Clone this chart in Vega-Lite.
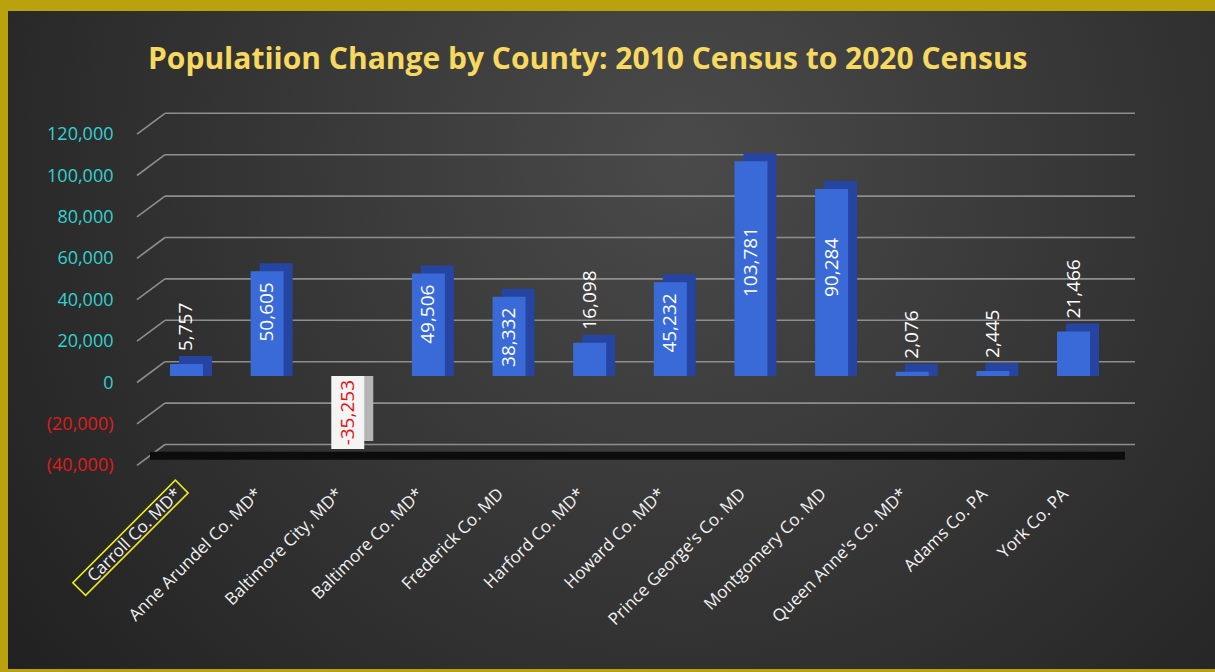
{
  "$schema": "https://vega.github.io/schema/vega-lite/v6.json",
  "width": 1207,
  "height": 658,
  "autosize": {"type": "none"},
  "padding": {"left": 8, "top": 11, "right": 0, "bottom": 3},
  "background": "#b9a20d",
  "config": {
    "view": {
      "stroke": null,
      "fill": {
        "gradient": "radial",
        "x1": 0.56, "y1": 0.35, "x2": 0.56, "y2": 0.35, "r1": 0, "r2": 0.8,
        "stops": [{"offset": 0, "color": "#4a4a4a"}, {"offset": 1, "color": "#1b1b1b"}]
      }
    },
    "locale": {"number": {"decimal": ".", "thousands": ",", "grouping": [3], "currency": ["$", ""], "minus": "-"}},
    "font": "Open Sans"
  },
  "title": {
    "text": "Populatiion Change by County: 2010 Census to 2020 Census",
    "font": "Open Sans",
    "fontSize": 30,
    "fontWeight": "bold",
    "color": "#f7d95f",
    "anchor": "start",
    "frame": "group",
    "dx": 140,
    "offset": -88,
    "baseline": "alphabetic"
  },
  "datasets": {
    "counties": [
      {"county": "Carroll Co. MD*", "value": 5757},
      {"county": "Anne Arundel Co. MD*", "value": 50605},
      {"county": "Baltimore City, MD*", "value": -35253},
      {"county": "Baltimore Co. MD*", "value": 49506},
      {"county": "Frederick Co. MD", "value": 38332},
      {"county": "Harford Co. MD*", "value": 16098},
      {"county": "Howard Co. MD*", "value": 45232},
      {"county": "Prince George's Co. MD", "value": 103781},
      {"county": "Montgomery Co. MD", "value": 90284},
      {"county": "Queen Anne's Co. MD*", "value": 2076},
      {"county": "Adams Co. PA", "value": 2445},
      {"county": "York Co. PA", "value": 21466}
    ],
    "grid": [
      {"g": -40000}, {"g": -20000}, {"g": 0}, {"g": 20000}, {"g": 40000},
      {"g": 60000}, {"g": 80000}, {"g": 100000}, {"g": 120000}
    ]
  },
  "data": {"name": "counties"},
  "encoding": {
    "x": {
      "field": "county",
      "type": "nominal",
      "sort": null,
      "scale": {
        "domain": ["Carroll Co. MD*", "Anne Arundel Co. MD*", "Baltimore City, MD*", "Baltimore Co. MD*", "Frederick Co. MD", "Harford Co. MD*", "Howard Co. MD*", "Prince George's Co. MD", "Montgomery Co. MD", "Queen Anne's Co. MD*", "Adams Co. PA", "York Co. PA"],
        "range": [162, 1082],
        "paddingInner": 0.591,
        "paddingOuter": 0
      },
      "axis": {
        "orient": "bottom",
        "offset": -181,
        "labelPadding": 3,
        "labelOffset": -8,
        "labelAngle": -45,
        "labelAlign": "right",
        "labelBaseline": "middle",
        "labelColor": "#f2f2f2",
        "labelFontSize": 17,
        "labelFont": "Open Sans",
        "labelLimit": 400,
        "labelOverlap": false,
        "domain": false,
        "ticks": false,
        "grid": false,
        "title": null
      }
    }
  },
  "layer": [
    {
      "data": {"name": "grid"},
      "mark": {"type": "rule", "color": "#8e8e8e", "strokeWidth": 1.6, "xOffset": -21.5, "x2Offset": 61.5, "yOffset": -14.3},
      "encoding": {
        "x": {"datum": "Carroll Co. MD*", "type": "nominal"},
        "x2": {"datum": "York Co. PA"},
        "y": {
          "field": "g",
          "type": "quantitative",
          "scale": {"domain": [-141546, 176329], "nice": false, "zero": false},
          "axis": {
            "orient": "left",
            "values": [-40000, -20000, 0, 20000, 40000, 60000, 80000, 100000, 120000],
            "labelExpr": "datum.value < 0 ? '(' + format(-datum.value, ',') + ')' : format(datum.value, ',')",
            "labelColor": {"condition": {"test": "datum.value < 0", "value": "#e21b1b"}, "value": "#33d2d2"},
            "labelFontSize": 18,
            "labelFont": "Open Sans",
            "offset": -105,
            "labelPadding": 0,
            "labelOffset": 7,
            "domain": false,
            "ticks": false,
            "grid": false,
            "title": null
          }
        }
      }
    },
    {
      "data": {"name": "grid"},
      "mark": {"type": "rule", "color": "#8e8e8e", "strokeWidth": 1.6, "xOffset": -49.5, "x2Offset": -21.5, "yOffset": 6.5, "y2Offset": -14.3},
      "encoding": {
        "x": {"datum": "Carroll Co. MD*", "type": "nominal"},
        "x2": {"datum": "Carroll Co. MD*"},
        "y": {"field": "g", "type": "quantitative"},
        "y2": {"field": "g"}
      }
    },
    {
      "data": {"name": "grid"},
      "transform": [{"filter": "datum.g == -40000"}],
      "mark": {"type": "rule", "color": "#0c0c0c", "strokeWidth": 8, "xOffset": -36.5, "x2Offset": 51.5, "yOffset": -3},
      "encoding": {
        "x": {"datum": "Carroll Co. MD*", "type": "nominal"},
        "x2": {"datum": "York Co. PA"},
        "y": {"field": "g", "type": "quantitative"}
      }
    },
    {
      "mark": {"type": "bar", "xOffset": 9, "yOffset": -8},
      "encoding": {
        "y": {"field": "value", "type": "quantitative"},
        "y2": {"datum": 0},
        "color": {"condition": {"test": "datum.value < 0", "value": "#b5b5b5"}, "value": "#2644a2"}
      }
    },
    {
      "mark": {"type": "bar"},
      "encoding": {
        "y": {"field": "value", "type": "quantitative"},
        "y2": {"datum": 0},
        "color": {"condition": {"test": "datum.value < 0", "value": "#f4f4f4"}, "value": "#3a6ad8"}
      }
    },
    {
      "transform": [{"filter": "datum.value >= 80000"}],
      "mark": {"type": "text", "angle": 270, "align": "left", "baseline": "middle", "dx": 79, "fontSize": 19, "color": "#ffffff"},
      "encoding": {
        "y": {"datum": 0},
        "text": {"field": "value", "type": "quantitative", "format": ","}
      }
    },
    {
      "transform": [{"filter": "datum.value >= 30000 && datum.value < 80000"}],
      "mark": {"type": "text", "angle": 270, "align": "right", "baseline": "middle", "dx": -11, "fontSize": 19, "color": "#ffffff"},
      "encoding": {
        "y": {"field": "value", "type": "quantitative"},
        "text": {"field": "value", "type": "quantitative", "format": ","}
      }
    },
    {
      "transform": [{"filter": "datum.value > 0 && datum.value < 30000"}],
      "mark": {"type": "text", "angle": 270, "align": "left", "baseline": "middle", "dx": 13, "fontSize": 19, "color": "#ffffff"},
      "encoding": {
        "y": {"field": "value", "type": "quantitative"},
        "text": {"field": "value", "type": "quantitative", "format": ","}
      }
    },
    {
      "transform": [{"filter": "datum.value < 0"}],
      "mark": {"type": "text", "angle": 270, "align": "right", "baseline": "middle", "dx": -4, "fontSize": 19, "color": "#e01010"},
      "encoding": {
        "y": {"datum": 0},
        "text": {"field": "value", "type": "quantitative", "format": ","}
      }
    },
    {
      "transform": [{"filter": "datum.county === 'Carroll Co. MD*'"}],
      "mark": {"type": "point", "shape": "M-1,-0.124L1,-0.124L1,0.124L-1,0.124Z", "size": 21025, "angle": -45, "filled": false, "stroke": "#f0ea1c", "strokeWidth": 1.6, "opacity": 1, "xOffset": -56, "yOffset": 79},
      "encoding": {
        "y": {"datum": -40000}
      }
    }
  ]
}
